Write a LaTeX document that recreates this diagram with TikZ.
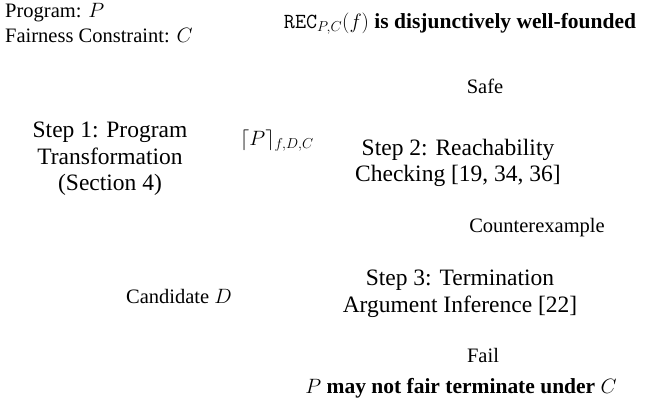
\documentclass[tikz,border=0pt]{standalone}
\usepackage{fontspec}
\setmainfont{Liberation Serif}
\begin{document}
\begin{tikzpicture}[x=1pt,y=1pt,
  lbl/.style={inner sep=0pt, anchor=base, font=\fontsize{20.5}{24}\selectfont},
  stepbox/.style={inner sep=0pt, align=center, font=\fontsize{23.5}{26.5}\selectfont},
  headline/.style={inner sep=0pt, anchor=base, font=\fontsize{21.5}{25}\selectfont}]
  \useasboundingbox (0,0) rectangle (670,-415);
  % inputs
  \node[lbl, anchor=base west] (prog) at (5,-17.5) {Program: $P$};
  \node[lbl, anchor=base west] (fair) at (5,-42.5) {Fairness Constraint: $C$};
  % success result
  \node[headline] (succ) at (460,-28) {$\mathtt{REC}_{P,C}(f)$ \textbf{is disjunctively well-founded}};
  \node[lbl] (safe) at (485,-93) {Safe};
  % the three steps
  \node[stepbox] (s1) at (110,-159) {Step 1: Program\\Transformation\\(Section 4)};
  \node[lbl] (trans) at (277,-145) {$\lceil P\rceil_{f,D,C}$};
  \node[stepbox] (s2) at (458,-163) {Step 2: Reachability\\Checking [19, 34, 36]};
  \node[lbl] (cex) at (537,-232) {Counterexample};
  \node[stepbox] (s3) at (460,-294) {Step 3: Termination\\Argument Inference [22]};
  \node[lbl] (cand) at (179,-303) {Candidate $D$};
  % failure result
  \node[lbl] (fail) at (483,-362) {Fail};
  \node[headline] (fres) at (461,-393) {$P$ \textbf{may not fair terminate under} $C$};
\end{tikzpicture}
\end{document}
